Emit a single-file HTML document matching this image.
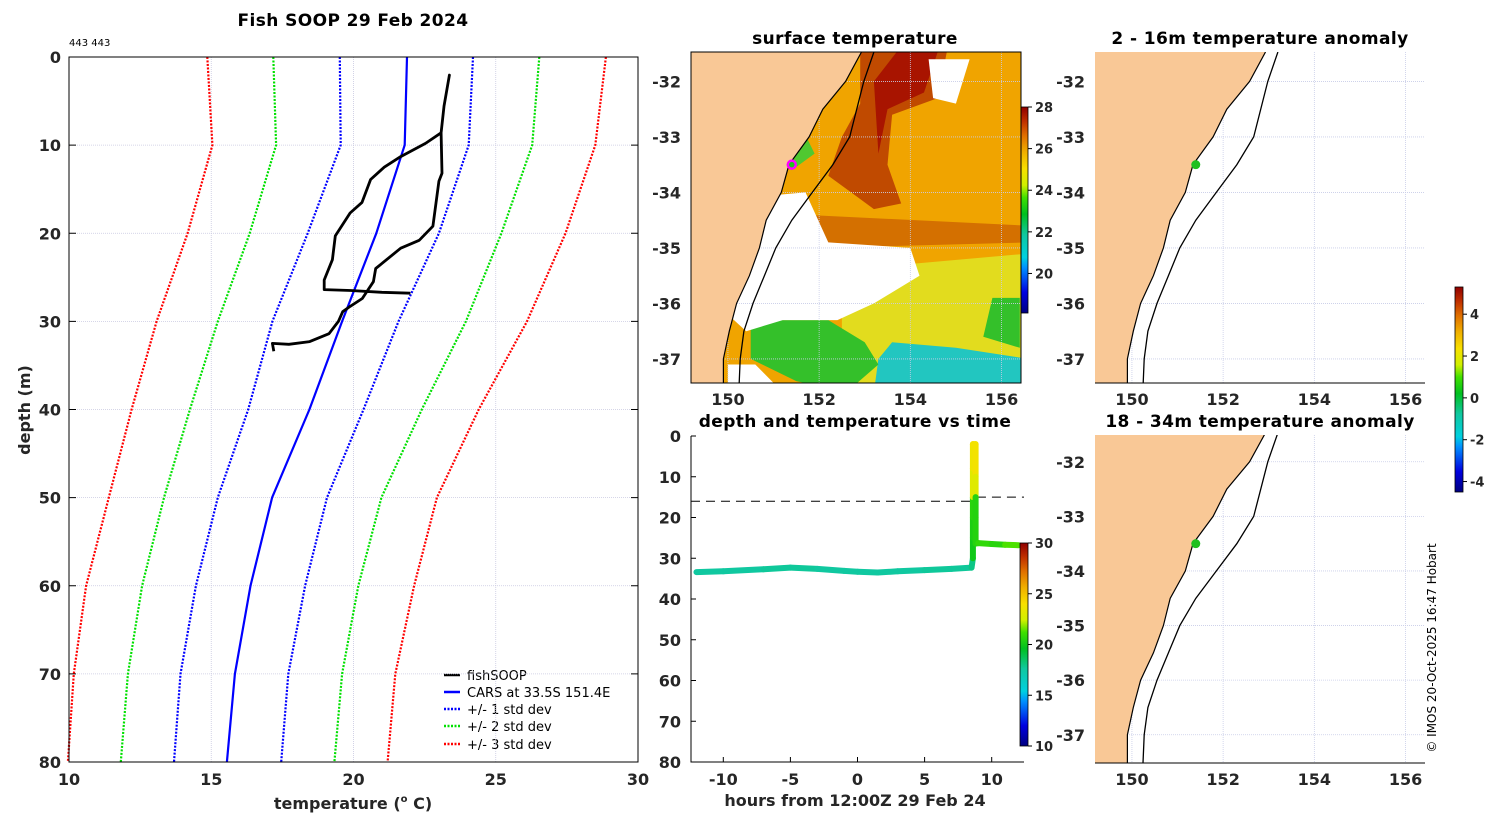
<!DOCTYPE html>
<html><head><meta charset="utf-8">
<style>
html,body{margin:0;padding:0;background:#fff;}
svg{display:block;font-family:"DejaVu Sans","Liberation Sans",sans-serif;}
.tk{font-size:16px;font-weight:bold;fill:#262626;}
.ttl{font-size:17px;font-weight:bold;fill:#000;letter-spacing:0.4px;}
.lg{font-size:13px;fill:#000;}
</style></head>
<body>
<svg id="fig" width="1500" height="820" viewBox="0 0 1500 820" xmlns="http://www.w3.org/2000/svg">
<defs>
<linearGradient id="cmap" x1="0" y1="1" x2="0" y2="0">
<stop offset="0" stop-color="#000080"/><stop offset="0.1" stop-color="#0000e0"/><stop offset="0.22" stop-color="#0090ff"/>
<stop offset="0.27" stop-color="#00d0e0"/><stop offset="0.38" stop-color="#10c8a0"/><stop offset="0.48" stop-color="#00c020"/>
<stop offset="0.56" stop-color="#40e000"/><stop offset="0.62" stop-color="#d0f000"/><stop offset="0.7" stop-color="#f8e000"/>
<stop offset="0.78" stop-color="#f0b000"/><stop offset="0.86" stop-color="#e07000"/><stop offset="0.93" stop-color="#c03000"/><stop offset="1" stop-color="#900000"/>
</linearGradient>
</defs>
<text class="ttl" x="353" y="26" text-anchor="middle">Fish SOOP 29 Feb 2024</text>
<text x="69" y="46" font-size="10" fill="#000">443 443</text>
<text class="tk" transform="translate(30,410) rotate(-90)" text-anchor="middle">depth (m)</text>
<text class="tk" x="353" y="809" text-anchor="middle">temperature (<tspan font-size="10" dy="-7">o</tspan><tspan dy="7"> C)</tspan></text>
<text class="ttl" x="855" y="44" text-anchor="middle">surface temperature</text>
<text class="ttl" x="1260" y="44" text-anchor="middle">2 - 16m temperature anomaly</text>
<text class="ttl" x="855" y="427" text-anchor="middle">depth and temperature vs time</text>
<text class="ttl" x="1260" y="427" text-anchor="middle">18 - 34m temperature anomaly</text>
<text class="tk" x="855" y="806" text-anchor="middle">hours from 12:00Z 29 Feb 24</text>
<text transform="translate(1436,648) rotate(-90)" text-anchor="middle" font-size="12" fill="#000">© IMOS 20-Oct-2025 16:47 Hobart</text>
<g id="legend">
<line x1="444" y1="675" x2="460" y2="675" stroke="#000" stroke-width="2.5"/><text class="lg" x="467" y="680">fishSOOP</text>
<line x1="444" y1="692" x2="460" y2="692" stroke="#0000ff" stroke-width="2.5"/><text class="lg" x="467" y="697">CARS at 33.5S 151.4E</text>
<line x1="444" y1="709" x2="460" y2="709" stroke="#0000ff" stroke-width="2.5" stroke-dasharray="2,1.5"/><text class="lg" x="467" y="714">+/- 1 std dev</text>
<line x1="444" y1="726" x2="460" y2="726" stroke="#00e000" stroke-width="2.5" stroke-dasharray="2,1.5"/><text class="lg" x="467" y="731">+/- 2 std dev</text>
<line x1="444" y1="744" x2="460" y2="744" stroke="#ff0000" stroke-width="2.5" stroke-dasharray="2,1.5"/><text class="lg" x="467" y="749">+/- 3 std dev</text>
</g>
</svg>
<script>
// ---------- profile data ----------
const depthLevels = [0,10,20,30,40,50,60,70,80];
const carsMean = [21.88,21.8,20.8,19.6,18.45,17.14,16.38,15.83,15.55];
const minus1 = [19.52,19.55,18.39,17.15,16.3,15.23,14.46,13.92,13.69];
const plus1 = [24.2,24.05,23.0,21.58,20.35,19.07,18.3,17.71,17.46];
const minus2 = [17.18,17.28,16.35,15.23,14.25,13.34,12.57,12.07,11.82];
const plus2 = [26.53,26.28,25.2,23.95,22.4,20.98,20.17,19.6,19.33];
const minus3 = [14.86,15.04,14.17,13.08,12.2,11.4,10.6,10.17,9.96];
const plus3 = [28.87,28.5,27.45,26.1,24.4,22.93,22.13,21.47,21.2];
const fishTemp = [17.2,17.15,17.73,18.46,19.14,19.47,19.62,19.88,20.31,20.7,20.78,21.66,22.31,22.79,23.0,23.11,23.08,23.18,23.37,23.18,23.08,22.53,21.66,21.08,20.6,20.3,19.88,19.36,19.26,18.97,18.97,19.9,21.0,22.0];
const fishDepth = [33.4,32.5,32.6,32.3,31.4,30.0,28.9,28.3,27.4,25.5,24.0,21.7,20.8,19.2,14.1,13.2,8.6,5.6,2.05,5.6,8.6,9.8,11.3,12.5,13.9,16.5,17.7,20.3,23.0,25.3,26.4,26.5,26.7,26.8];
const tempTicks = [10,15,20,25,30];
const depthTicks = [0,10,20,30,40,50,60,70,80];
// ---------- time series data ----------
const hours = [-12,-10,-7,-5,-3,-1,0,1.5,3,5,7,8.5,8.6,8.6,8.6,8.6,8.6,8.6,8.8,8.8,8.8,8.8,8.8,9,10,11,12];
const tsDepth = [33.4,33.2,32.7,32.3,32.6,33.1,33.3,33.5,33.2,32.9,32.6,32.3,30,25,20,15,8,2,2,10,15,20,26.4,26.3,26.5,26.7,26.8];
const tsTemp = [17.6,17.6,17.7,17.7,17.6,17.6,17.6,17.6,17.6,17.7,17.7,18,20,20.3,20.6,23,23.6,23.8,23.8,23,20.5,20.5,20.5,20.8,20.6,21.3,22.5];
const hourTicks = [-10,-5,0,5,10];
const mixedLayer1 = [16, 16];
const mixedLayer2 = [15, 15];
// ---------- map data ----------
const latTicks = [-32,-33,-34,-35,-36,-37];
const lonTicks = [150,152,154,156];
const coastLat = [-31.47,-32,-32.5,-33,-33.5,-34,-34.5,-35,-35.5,-36,-36.5,-37,-37.56];
const coastLon = [152.93,152.58,152.08,151.78,151.34,151.17,150.84,150.69,150.47,150.19,150.03,149.9,149.9];
const isoLat = [-31.47,-32,-33,-33.5,-34,-34.5,-35,-35.5,-36,-36.5,-37,-37.56];
const isoLon = [153.2,152.98,152.67,152.3,151.85,151.4,151.05,150.8,150.55,150.35,150.27,150.24];
const stationLon = 151.4, stationLat = -33.5;
const sstTicks = [20,22,24,26,28];
const anomTicks = [-4,-2,0,2,4];

const NS='http://www.w3.org/2000/svg';
const svg=document.getElementById('fig');
function mk(tag,attrs,parent){const e=document.createElementNS(NS,tag);for(const k in attrs)e.setAttribute(k,attrs[k]);(parent||svg).appendChild(e);return e;}

const cstops=[[0,[0,0,128]],[0.1,[0,0,224]],[0.22,[0,144,255]],[0.27,[0,208,224]],[0.38,[16,200,160]],[0.48,[0,192,32]],[0.56,[64,224,0]],[0.62,[208,240,0]],[0.7,[248,224,0]],[0.78,[240,176,0]],[0.86,[224,112,0]],[0.93,[192,48,0]],[1,[144,0,0]]];
function cmap(t){t=Math.max(0,Math.min(1,t));for(let i=1;i<cstops.length;i++){if(t<=cstops[i][0]){const a=cstops[i-1],b=cstops[i];const f=(t-a[0])/(b[0]-a[0]);const c=a[1].map((v,j)=>Math.round(v+(b[1][j]-v)*f));return 'rgb('+c.join(',')+')';}}return 'rgb(144,0,0)';}

// ---------- profile chart ----------
const PL=69,PR=638,PT=57,PB=762;
const px=t=>PL+(t-10)*(PR-PL)/20;
const py=d=>PT+d*(PB-PT)/80;
const gp=mk('g',{});


tempTicks.forEach(t=>{
  const l=mk('line',{x1:px(t),x2:px(t),y1:PT,y2:PB,stroke:'#c8c8e0','stroke-width':0.8,'stroke-dasharray':'1,1'},gp);
  
  
  const tx=mk('text',{x:px(t),y:PB+23,'text-anchor':'middle',class:'tk'},gp);tx.textContent=t;
  
  
});
depthTicks.forEach(d=>{
  const l=mk('line',{x1:PL,x2:PR,y1:py(d),y2:py(d),stroke:'#c8c8e0','stroke-width':0.8,'stroke-dasharray':'1,1'},gp);
  
  
  mk('line',{x1:PL,x2:PL+7,y1:py(d),y2:py(d),stroke:'#000'},gp);
  mk('line',{x1:PR-7,x2:PR,y1:py(d),y2:py(d),stroke:'#000'},gp);
  const tx=mk('text',{x:PL-8,y:py(d)+6,'text-anchor':'end',class:'tk'},gp);tx.textContent=d;
  
  
});
function line(ts,ds,col,dash,w){
  const pts=ts.map((t,i)=>px(t).toFixed(1)+','+py(ds[i]).toFixed(1)).join(' ');
  return mk('polyline',{points:pts,fill:'none',stroke:col,'stroke-width':w,'stroke-dasharray':dash||'none','stroke-linejoin':'round'},gp);
}
let s;
s=line(minus3,depthLevels,'#ff0000','2,1.5',2.2);


s=line(plus3,depthLevels,'#ff0000','2,1.5',2.2);


s=line(minus2,depthLevels,'#00e000','2,1.5',2.2);


s=line(plus2,depthLevels,'#00e000','2,1.5',2.2);


s=line(minus1,depthLevels,'#0000ff','2,1.5',2.2);


s=line(plus1,depthLevels,'#0000ff','2,1.5',2.2);


s=line(carsMean,depthLevels,'#0000ff',null,2.2);


s=line(fishTemp,fishDepth,'#000',null,2.8);


s=mk('rect',{x:PL,y:PT,width:PR-PL,height:PB-PT,fill:'none',stroke:'#000','stroke-width':1},gp);



// ---------- time series chart ----------
const TL=691,TR=1024,TT=436,TB=762;
const tx=h=>723.3+(h+10)*13.42;
const ty=d=>TT+d*(TB-TT)/80;
const gt=mk('g',{});


s=mk('polyline',{points:TL+','+TT+' '+TL+','+TB+' '+TR+','+TB,fill:'none',stroke:'#000'},gt);


depthTicks.forEach(d=>{
  mk('line',{x1:TL,x2:TL+5,y1:ty(d),y2:ty(d),stroke:'#000'},gt);
  const t=mk('text',{x:TL-10,y:ty(d)+6,'text-anchor':'end',class:'tk'},gt);t.textContent=d;
  
  
});
hourTicks.forEach(h=>{
  mk('line',{x1:tx(h),x2:tx(h),y1:TB,y2:TB-5,stroke:'#000'},gt);
  const t=mk('text',{x:tx(h),y:TB+23,'text-anchor':'middle',class:'tk'},gt);t.textContent=h;
  
  
});
s=mk('line',{x1:TL,x2:tx(8.7),y1:ty(mixedLayer1[0]),y2:ty(mixedLayer1[1]),stroke:'#000','stroke-dasharray':'9,6'},gt);


s=mk('line',{x1:tx(8.9),x2:TR,y1:ty(mixedLayer2[0]),y2:ty(mixedLayer2[1]),stroke:'#000','stroke-dasharray':'9,6'},gt);


for(let i=0;i<hours.length-1;i++){
  const seg=mk('line',{x1:tx(hours[i]),y1:ty(tsDepth[i]),x2:tx(hours[i+1]),y2:ty(tsDepth[i+1]),stroke:cmap((tsTemp[i]-10)/20),'stroke-width':6,'stroke-linecap':'round'},gt);
  
  
}
function colorbar(x,y1,y2,vmin,vmax,ticks,name){
  const g=mk('g',{});
  
  
  mk('rect',{x:x,y:y1,width:8,height:y2-y1,fill:'url(#cmap)',stroke:'#000','stroke-width':0.8},g);
  ticks.forEach(v=>{
    const yy=y2-(v-vmin)/(vmax-vmin)*(y2-y1);
    mk('line',{x1:x+8,x2:x+12,y1:yy,y2:yy,stroke:'#000'},g);
    const t=mk('text',{x:x+15,y:yy+5,class:'tk'},g);t.textContent=v;
    t.style.fontSize='13px';
    
    
  });
}
colorbar(1020,543,746,10,30,[10,15,20,25,30],'time-colorbar');
colorbar(1020,107,313,18.1,28,sstTicks,'sst-colorbar');
colorbar(1455,287,492,-4.5,5.3,anomTicks,'anomaly-colorbar');

// ---------- maps ----------
function drawMap(cfg,kind,name){
  const g=mk('g',{});
  
  
  const mx=lon=>cfg.x0+(lon-149.19)*45.6;
  const my=lat=>cfg.y0+(cfg.latTop-lat)*cfg.sc;
  const cid='clip'+name;
  const cp=mk('clipPath',{id:cid},g);mk('rect',{x:cfg.x0,y:cfg.y0,width:cfg.w,height:cfg.h},cp);
  const inner=mk('g',{'clip-path':'url(#'+cid+')'},g);
  const poly=(pts,fill)=>mk('polygon',{points:pts.map(p=>mx(p[0]).toFixed(1)+','+my(p[1]).toFixed(1)).join(' '),fill:fill},inner);
  mk('rect',{x:cfg.x0,y:cfg.y0,width:cfg.w,height:cfg.h,fill:kind==='sst'?'#f0a400':'#fff'},inner);
  if(kind==='sst'){
    poly([[152.5,-35.4],[156.6,-35.1],[156.6,-37.6],[152.5,-37.6]],'#e2dc1e');
    poly([[153.2,-37.6],[156.6,-37.6],[156.6,-37.0],[155,-36.8],[153.6,-36.7],[153.3,-37.0]],'#22c6c0');
    poly([[150.5,-36.3],[152.2,-36.3],[153,-36.7],[153.3,-37.1],[152.6,-37.6],[151.5,-37.4],[150.5,-37.0]],'#34c02a');
    poly([[155.8,-35.9],[156.4,-35.9],[156.4,-36.8],[155.6,-36.6]],'#34c02a');
    poly([[151.0,-33.1],[151.6,-32.8],[151.9,-33.3],[151.4,-33.6]],'#50c830');
    poly([[151.6,-34.4],[156.6,-34.6],[156.6,-34.9],[152,-35.0],[151.4,-34.8]],'#d47000');
    poly([[150.3,-34.1],[151.7,-34.0],[152.2,-34.9],[154,-35.0],[154.2,-35.5],[153.2,-36.0],[152.4,-36.3],[151.2,-36.3],[150.4,-36.5],[150,-36.2],[150.4,-35.0]],'#ffffff');
    poly([[150.0,-37.1],[150.6,-37.1],[151.2,-37.6],[150,-37.6]],'#ffffff');
    poly([[152.9,-31.47],[154.8,-31.47],[154.6,-32.3],[153.6,-32.6],[153.5,-33.5],[153.8,-34.2],[153.2,-34.3],[152.7,-34.0],[152.2,-33.7],[152.5,-33.0],[152.9,-32.4]],'#c04a00');
    poly([[153.7,-31.47],[154.6,-31.47],[154.3,-32.2],[153.5,-32.5],[153.3,-33.3],[153.2,-32.0]],'#a81400');
    poly([[154.4,-31.6],[155.3,-31.6],[155.0,-32.4],[154.5,-32.3]],'#ffffff');
  }
  lonTicks.forEach(l=>{mk('line',{x1:mx(l),x2:mx(l),y1:cfg.y0,y2:cfg.y0+cfg.h,stroke:'#c8cce8','stroke-width':0.8,'stroke-dasharray':'1,1'},inner);});
  latTicks.forEach(l=>{mk('line',{x1:cfg.x0,x2:cfg.x0+cfg.w,y1:my(l),y2:my(l),stroke:'#c8cce8','stroke-width':0.8,'stroke-dasharray':'1,1'},inner);});
  const land=coastLon.map((lo,i)=>mx(lo).toFixed(1)+','+my(coastLat[i]).toFixed(1));
  land.push(mx(149.0)+','+my(-37.6),mx(149.0)+','+my(-31.4));
  const ld=mk('polygon',{points:land.join(' '),fill:'#f9c896'},inner);
  
  
  const cl=mk('polyline',{points:coastLon.map((lo,i)=>mx(lo).toFixed(1)+','+my(coastLat[i]).toFixed(1)).join(' '),fill:'none',stroke:'#000','stroke-width':1.2},inner);
  
  
  const iso=mk('polyline',{points:isoLon.map((lo,i)=>mx(lo).toFixed(1)+','+my(isoLat[i]).toFixed(1)).join(' '),fill:'none',stroke:'#000','stroke-width':1.3},inner);
  
  
  const st=mk('circle',{cx:mx(stationLon),cy:my(stationLat),r:kind==='sst'?4:4.5,fill:'#20c020',stroke:kind==='sst'?'#ff00ff':'none','stroke-width':2.5},inner);
  
  
  if(kind==='sst'){mk('rect',{x:cfg.x0,y:cfg.y0,width:cfg.w,height:cfg.h,fill:'none',stroke:'#000'},g);}
  else{mk('line',{x1:cfg.x0,x2:cfg.x0+cfg.w,y1:cfg.y0+cfg.h,y2:cfg.y0+cfg.h,stroke:'#000'},g);}
  latTicks.forEach(l=>{
    const t=mk('text',{x:cfg.x0-10,y:my(l)+6,'text-anchor':'end',class:'tk'},g);t.textContent=l;
    
    
  });
  lonTicks.forEach(l=>{
    const t=mk('text',{x:mx(l),y:cfg.y0+cfg.h+22,'text-anchor':'middle',class:'tk'},g);t.textContent=l;
    
    
  });
}
drawMap({x0:691,y0:52,w:330,h:331,latTop:-31.47,sc:55.5},'sst','sst-map');
drawMap({x0:1095,y0:52,w:330,h:331,latTop:-31.47,sc:55.5},'anom','anomaly-map-1');
drawMap({x0:1095,y0:435,w:330,h:328,latTop:-31.51,sc:54.6},'anom','anomaly-map-2');
</script>
</body></html>
